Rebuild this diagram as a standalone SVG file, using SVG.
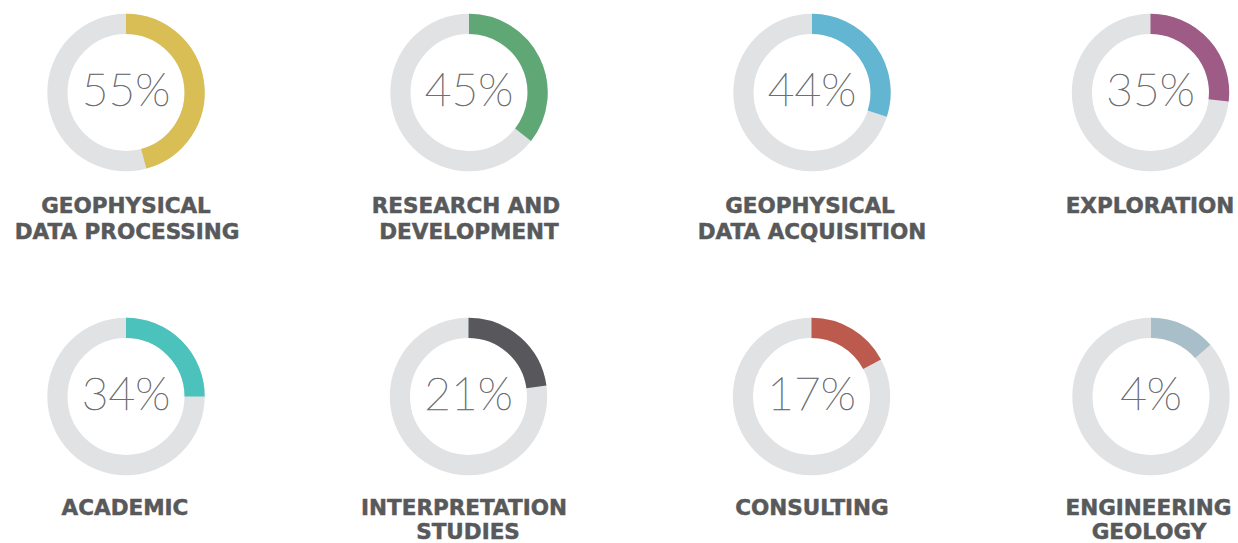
<svg xmlns="http://www.w3.org/2000/svg" width="1238" height="543" viewBox="0 0 1238 543">
<style>
.bg{fill:#ffffff}
.track{fill:none;stroke:#E1E2E4;stroke-width:20.2}
.arc{fill:none;stroke-width:20.2;stroke-linecap:butt}
.pct{font-family:Lato,"Open Sans","Liberation Sans",sans-serif;font-weight:200;font-size:46px;fill:#6D6E71;stroke:#6D6E71;stroke-width:0.6;text-anchor:middle}
.lbl{font-family:"DejaVu Sans","Liberation Sans",sans-serif;font-weight:bold;font-size:21.5px;fill:#58595B;stroke:#58595B;stroke-width:0.5;text-anchor:middle}
</style>
<rect class="bg" x="0" y="0" width="1238" height="543"/>
<g id="geophysical-data-processing">
<circle class="track" cx="126" cy="92.5" r="68.6"/>
<path class="arc" stroke="#D9BE55" d="M126 23.9 A68.6 68.6 0 0 1 143.75 158.76"/>
<text class="pct" x="126" y="106">55%</text>
<text class="lbl" x="126" y="212.5">GEOPHYSICAL</text>
<text class="lbl" x="127" y="239">DATA PROCESSING</text>
</g>
<g id="research-and-development">
<circle class="track" cx="469" cy="92.5" r="68.6"/>
<path class="arc" stroke="#5FA875" d="M469 23.9 A68.6 68.6 0 0 1 523.06 134.74"/>
<text class="pct" x="469" y="106">45%</text>
<text class="lbl" x="466" y="212.5">RESEARCH AND</text>
<text class="lbl" x="469" y="239">DEVELOPMENT</text>
</g>
<g id="geophysical-data-acquisition">
<circle class="track" cx="812" cy="92.5" r="68.6"/>
<path class="arc" stroke="#62B6D2" d="M812 23.9 A68.6 68.6 0 0 1 877.24 113.70"/>
<text class="pct" x="812" y="106">44%</text>
<text class="lbl" x="810" y="212.5">GEOPHYSICAL</text>
<text class="lbl" x="812" y="239">DATA ACQUISITION</text>
</g>
<g id="exploration">
<circle class="track" cx="1150.5" cy="92.5" r="68.6"/>
<path class="arc" stroke="#9E5B85" d="M1150.5 23.9 A68.6 68.6 0 0 1 1218.66 100.27"/>
<text class="pct" x="1150.5" y="106">35%</text>
<text class="lbl" x="1150" y="212.5">EXPLORATION</text>
</g>
<g id="academic">
<circle class="track" cx="126" cy="396.5" r="68.6"/>
<path class="arc" stroke="#4CC2BC" d="M126 327.9 A68.6 68.6 0 0 1 194.6 396.5"/>
<text class="pct" x="126" y="410">34%</text>
<text class="lbl" x="125" y="514.5">ACADEMIC</text>
</g>
<g id="interpretation-studies">
<circle class="track" cx="468.5" cy="396.5" r="68.6"/>
<path class="arc" stroke="#58585C" d="M468.5 327.9 A68.6 68.6 0 0 1 536.43 386.95"/>
<text class="pct" x="468.5" y="410">21%</text>
<text class="lbl" x="464" y="514.5">INTERPRETATION</text>
<text class="lbl" x="468" y="538.5">STUDIES</text>
</g>
<g id="consulting">
<circle class="track" cx="811.5" cy="396.5" r="68.6"/>
<path class="arc" stroke="#BC5B4D" d="M811.5 327.9 A68.6 68.6 0 0 1 872.07 364.29"/>
<text class="pct" x="811.5" y="410">17%</text>
<text class="lbl" x="812" y="514.5">CONSULTING</text>
</g>
<g id="engineering-geology">
<circle class="track" cx="1151" cy="396.5" r="68.6"/>
<path class="arc" stroke="#A8BFCA" d="M1151 327.9 A68.6 68.6 0 0 1 1202.77 351.49"/>
<text class="pct" x="1151" y="410">4%</text>
<text class="lbl" x="1148.5" y="514.5">ENGINEERING</text>
<text class="lbl" x="1149" y="538.5">GEOLOGY</text>
</g>
<g id="connectors"/>
</svg>
